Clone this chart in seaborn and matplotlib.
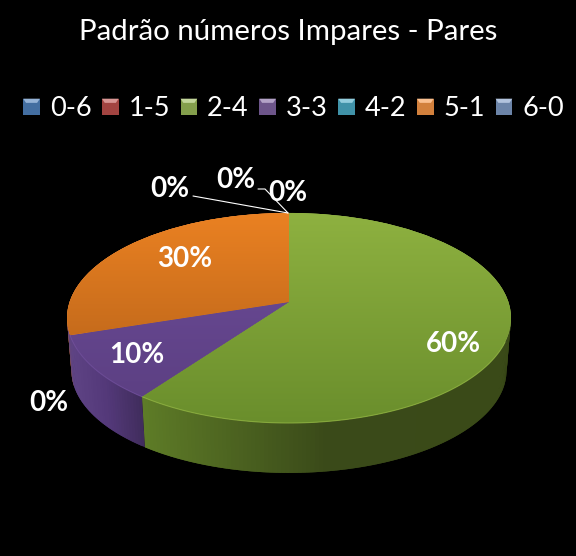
import numpy as np
import matplotlib
matplotlib.use("Agg")
import matplotlib.pyplot as plt
import matplotlib.transforms as mtransforms
from matplotlib.collections import PolyCollection
from matplotlib.legend_handler import HandlerBase
from matplotlib.patches import Patch, Polygon, Rectangle
import seaborn as sns

title = "Padrão números Impares - Pares"
categories = ["0-6", "1-5", "2-4", "3-3", "4-2", "5-1", "6-0"]
values = [0, 0, 60, 10, 0, 30, 0]
colors = ["#4F81BD", "#C0504D", "#9BBB59", "#8064A2", "#4BACC6", "#F79646", "#7F9BC6"]

sns.set_theme(style="white", rc={"axes.facecolor": "black", "figure.facecolor": "black"})
plt.rcParams["font.family"] = ["Lato", "DejaVu Sans"]

W, H = 576, 556
# label spots in pixels, same order as categories
label_xy = [(170, 189), (236, 180), (453, 344), (137, 355), (49, 403), (185, 259), (288, 193)]
# top face colour, top of the pie to bottom of the pie
top_ramps = {"2-4": ("#8EB140", "#6A8E2C"), "3-3": ("#6E4D9A", "#5A3E80"), "5-1": ("#EA8122", "#AC5C17")}
# side wall colour, left to right of each visible slice
side_ramps = {"2-4": ("#5E7C27", "#3A4A19", "#3A4A18"), "3-3": ("#5F4485", "#54397A", "#402D5C"),
              "5-1": ("#B0601C", "#B0601C", "#B0601C")}
# draw order of the walls and how far (degrees) a wall runs past its slice
side_order = ["5-1", "2-4", "3-3"]
side_extend = {"3-3": 6}


class Perspective(mtransforms.Transform):
    input_dims = output_dims = 2
    is_separable = False
    has_inverse = False

    def __init__(self, cx, cy, b, a, k):
        super().__init__()
        self.p = (cx, cy, b, a, k)

    def transform_non_affine(self, values):
        cx, cy, b, a, k = self.p
        values = np.asarray(values)
        u, v = values[:, 0], values[:, 1]
        d = 1 + k * v
        return np.column_stack([cx + b * u / d, cy - a * v / d])


class BevelHandler(HandlerBase):
    def create_artists(self, legend, orig, xd, yd, width, height, fontsize, trans):
        col = np.array(matplotlib.colors.to_rgb(orig.get_facecolor()))
        s = 12
        x0, y0 = -xd, -yd + (height - s) / 2
        body = Rectangle((x0, y0), s, s, fc=col * 0.85, ec="none", transform=trans)
        cap = Polygon([(x0, y0 + s), (x0 + s, y0 + s), (x0 + s - 2, y0 + s - 3), (x0 + 2, y0 + s - 3)],
                      fc=col * 0.6 + 0.4, ec="none", transform=trans)
        return [body, cap]


def rgb(c):
    return np.array(matplotlib.colors.to_rgb(c))


fig = plt.figure(figsize=(W / 100, H / 100), dpi=100)
ax = fig.add_axes([0, 0, 1, 1])

top = Perspective(289, 302, 219.4, 102.6, 0.152)
bottom = Perspective(289, 355, 215, 100.0, 0.152)

# side wall first, back to front
fracs = np.array(values) / sum(values)
edges = np.concatenate([[0], np.cumsum(fracs)]) * 2 * np.pi
bounds = dict(zip(categories, zip(edges[:-1], edges[1:])))
quads, quad_cols = [], []
for name in side_order:
    a0, a1 = bounds[name]
    a1 = a1 + np.radians(side_extend.get(name, 0))
    steps = np.linspace(a0, a1, int((a1 - a0) * 60) + 2)
    u, v = np.sin(steps), np.cos(steps)
    t = top.transform_non_affine(np.column_stack([u, v]))
    b = bottom.transform_non_affine(np.column_stack([u, v]))
    xs = t[:, 0]
    vis = v < 0.1
    lo, hi = xs[vis].min(), xs[vis].max()
    ramp = np.array([rgb(c) for c in side_ramps[name]])
    for i in range(len(steps) - 1):
        j = min(i + 2, len(steps) - 1)  # overlap the next strip so no seams show
        xm = (xs[i] + xs[i + 1]) / 2
        f = [np.interp(xm, [lo, (lo + hi) / 2, hi], ramp[:, ch]) for ch in range(3)]
        quads.append([t[i], t[j], b[j], b[i]])
        quad_cols.append(tuple(f))
side = PolyCollection(quads, facecolors=quad_cols, edgecolors="none", zorder=1)
ax.add_collection(side)

# top face
wedges, _ = ax.pie(values, colors=colors, startangle=90, counterclock=False, radius=1)
ax.set_aspect("auto")
for wedge, name in zip(wedges, categories):
    wedge.set_transform(top + ax.transData)
    wedge.set_zorder(2)
    wedge.set_edgecolor("none")
    if name not in top_ramps:
        continue
    c0, c1 = top_ramps[name]
    mix = np.linspace(0, 1, 256)[:, None, None]
    im = ax.imshow(rgb(c0) * (1 - mix) + rgb(c1) * mix, extent=(0, W, 423, 213), aspect="auto", zorder=3)
    im.set_clip_path(wedge)

# thin light rim on the front edge
for name in ("2-4", "3-3"):
    a0, a1 = bounds[name]
    steps = np.linspace(max(a0, np.pi * 0.62), a1, 120)
    rim = top.transform_non_affine(np.column_stack([np.sin(steps), np.cos(steps)]))
    ax.plot(rim[:, 0], rim[:, 1], color=rgb(top_ramps[name][0]), lw=0.8, alpha=0.8, zorder=4)

ax.set_xlim(0, W)
ax.set_ylim(H, 0)
ax.axis("off")

for pct, (x, y) in zip(fracs, label_xy):
    ax.text(x, y, f"{pct:.0%}", color="white", fontsize=20, fontweight="bold",
            ha="center", va="center", zorder=6)

ax.plot([193, 288], [196, 213], color="white", lw=0.8, zorder=5)
ax.plot([258, 265, 288], [189, 189, 213], color="white", lw=0.8, zorder=5)

ax.text(288, 32, title, color="white", fontsize=21.2, ha="center", va="center")

handles = [Patch(facecolor=c) for c in colors]
leg = ax.legend(handles, categories, ncol=7, frameon=False, loc="center", bbox_to_anchor=(293.5 / W, 1 - 109 / H),
                handler_map={Patch: BevelHandler()}, fontsize=19.5, labelcolor="white",
                handlelength=0.61, handletextpad=0.37, columnspacing=0.39, borderpad=0, borderaxespad=0)

fig.savefig("out.png", dpi=100, facecolor="black")
